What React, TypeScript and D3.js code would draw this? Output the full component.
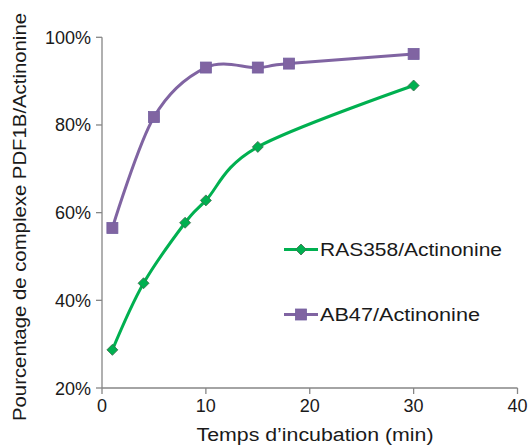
import React from "react";
import * as d3 from "d3";

const timesAB47 = [1, 5, 10, 15, 18, 30];
const valuesAB47 = [56.5, 81.8, 93.1, 93.1, 94.0, 96.2];
const timesRAS358 = [1, 4, 8, 10, 15, 30];
const valuesRAS358 = [28.7, 43.9, 57.7, 62.8, 75.0, 89.0];
const xTicks = [0, 10, 20, 30, 40];
const yTicks = [20, 40, 60, 80, 100];

const W = 531;
const H = 445;
const FONT = "'Liberation Sans', Arial, sans-serif";

export default function App() {
  const x = d3.scaleLinear().domain([0, 40]).range([102, 517.5]);
  const y = d3.scaleLinear().domain([20, 100]).range([388, 37.3]);
  const line = d3
    .line<[number, number]>()
    .x((d) => x(d[0]))
    .y((d) => y(d[1]))
    .curve(d3.curveCardinal.tension(0));

  const ab = timesAB47.map((t, i) => [t, valuesAB47[i]] as [number, number]);
  const ras = timesRAS358.map((t, i) => [t, valuesRAS358[i]] as [number, number]);
  const green = "#00B050";
  const purple = "#8064A2";
  const axis = "#868686";

  const diamond = (cx: number, cy: number, r: number) =>
    `M${cx},${cy - r}L${cx + r},${cy}L${cx},${cy + r}L${cx - r},${cy}Z`;

  return (
    <svg
      width={W}
      height={H}
      style={{ position: "absolute", left: 0, top: 0, background: "#fff" }}
    >
      {/* axes */}
      <line x1={x(0)} x2={x(0)} y1={y(100)} y2={y(20)} stroke={axis} strokeWidth={1.3} />
      <line x1={x(0)} x2={x(40)} y1={y(20)} y2={y(20)} stroke={axis} strokeWidth={1.3} />
      {yTicks.map((t) => (
        <g key={"y" + t}>
          <line x1={x(0) - 6} x2={x(0)} y1={y(t)} y2={y(t)} stroke={axis} strokeWidth={1.3} />
          <text
            x={91}
            y={y(t) + 6.5}
            textAnchor="end"
            fontFamily={FONT}
            fontSize={18}
            fill="#1a1a1a"
          >
            {t}%
          </text>
        </g>
      ))}
      {xTicks.map((t) => (
        <g key={"x" + t}>
          <line x1={x(t)} x2={x(t)} y1={y(20)} y2={y(20) + 6} stroke={axis} strokeWidth={1.3} />
          <text
            x={x(t)}
            y={412}
            textAnchor="middle"
            fontFamily={FONT}
            fontSize={18}
            fill="#1a1a1a"
          >
            {t}
          </text>
        </g>
      ))}
      {/* titles */}
      <text
        x={315}
        y={441}
        textAnchor="middle"
        fontFamily={FONT}
        fontSize={18}
        fill="#1a1a1a"
        textLength={237}
        lengthAdjust="spacingAndGlyphs"
      >
        Temps d’incubation (min)
      </text>
      <text
        transform={`translate(26,217) rotate(-90)`}
        textAnchor="middle"
        fontFamily={FONT}
        fontSize={18}
        fill="#1a1a1a"
        textLength={408}
        lengthAdjust="spacingAndGlyphs"
      >
        Pourcentage de complexe PDF1B/Actinonine
      </text>

      {/* series */}
      <path d={line(ab) || ""} fill="none" stroke={purple} strokeWidth={3} />
      <path d={line(ras) || ""} fill="none" stroke={green} strokeWidth={3} />
      {ab.map((d, i) => (
        <rect
          key={"a" + i}
          x={x(d[0]) - 5.5}
          y={y(d[1]) - 5.5}
          width={11}
          height={11}
          fill={purple}
          stroke="#7460A0"
          strokeWidth={0.8}
        />
      ))}
      {ras.map((d, i) => (
        <path
          key={"r" + i}
          d={diamond(x(d[0]), y(d[1]), 5.5)}
          fill={green}
          stroke="#3d6b4c"
          strokeWidth={0.8}
        />
      ))}

      {/* legend */}
      <line x1={284} x2={318} y1={249.5} y2={249.5} stroke={green} strokeWidth={3} />
      <path d={diamond(301, 249.5, 5.5)} fill={green} stroke="#3d6b4c" strokeWidth={0.8} />
      <text
        x={320}
        y={255.5}
        fontFamily={FONT}
        fontSize={18}
        fill="#1a1a1a"
        textLength={182}
        lengthAdjust="spacingAndGlyphs"
      >
        RAS358/Actinonine
      </text>
      <line x1={284} x2={318} y1={314.5} y2={314.5} stroke={purple} strokeWidth={3} />
      <rect x={295.5} y={309} width={11} height={11} fill={purple} stroke="#7460A0" strokeWidth={0.8} />
      <text
        x={320}
        y={320.5}
        fontFamily={FONT}
        fontSize={18}
        fill="#1a1a1a"
        textLength={160}
        lengthAdjust="spacingAndGlyphs"
      >
        AB47/Actinonine
      </text>
    </svg>
  );
}
